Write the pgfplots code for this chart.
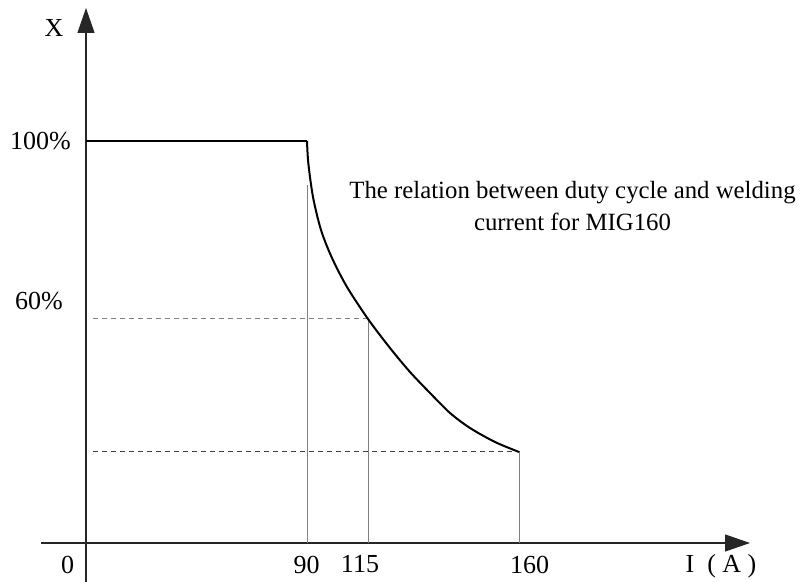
\documentclass[border=0pt]{standalone}
\usepackage{fontspec}
\setmainfont{Liberation Serif}
\usepackage{pgfplots}
\pgfplotsset{compat=1.18}
\usetikzlibrary{arrows.meta}
\begin{document}
\fontsize{13}{16}\selectfont
\begin{tikzpicture}
\begin{axis}[
  x=0.5pt, y=0.5pt,
  xmin=-45, xmax=664, ymin=-39, ymax=535,
  axis lines=middle,
  axis line style={line width=0.6pt, black!85, -{Triangle[length=12.5pt,width=8.5pt]}},
  xtick=\empty, ytick=\empty,
  enlargelimits=false,
  clip=false,
]
\coordinate (BL) at (axis cs:-86,-39);
\coordinate (TR) at (axis cs:716,543);
% vertical guide lines
\addplot[gray, line width=0.5pt] coordinates {(221,358) (221,0)};
\addplot[gray, line width=0.5pt] coordinates {(282.5,224) (282.5,0)};
\addplot[gray, line width=0.5pt] coordinates {(433.5,91) (433.5,0)};
% dashed guide lines
\addplot[gray, line width=0.5pt, dash pattern=on 2.5pt off 2pt] coordinates {(7,224) (282.5,224)};
\addplot[black!75, line width=0.5pt, dash pattern=on 2.5pt off 2pt] coordinates {(7,91) (433.5,91)};
% duty cycle curve
\addplot[black, line width=1pt] coordinates {(0,402) (221,402)};
\addplot[black, line width=1pt, smooth, tension=0.5] coordinates {
  (221,402) (222.3,380) (227,346) (235,313) (246,285) (261,256) (282,224)
  (304,195) (324,171) (344,150) (364,130) (384,115) (409,101) (433,91)};
% labels
\node at (axis cs:-32,514.5) {X};
\node at (axis cs:-45.5,402) {100\%};
\node at (axis cs:-47,241.5) {60\%};
\node at (axis cs:-18.5,-21.5) {0};
\node at (axis cs:220.5,-21.5) {90};
\node at (axis cs:274,-21.5) {115};
\node at (axis cs:443.5,-21.5) {160};
\node at (axis cs:635,-23) {I\hspace{0.5em}(\hspace{0.25em}A\hspace{0.25em})};
\node[align=center, font=\fontsize{12.4}{16}\selectfont] at (axis cs:486.5,337) {The relation between duty cycle and welding\\current for MIG160};
\end{axis}
\pgfresetboundingbox
\path (BL) rectangle (TR);
\end{tikzpicture}
\end{document}
